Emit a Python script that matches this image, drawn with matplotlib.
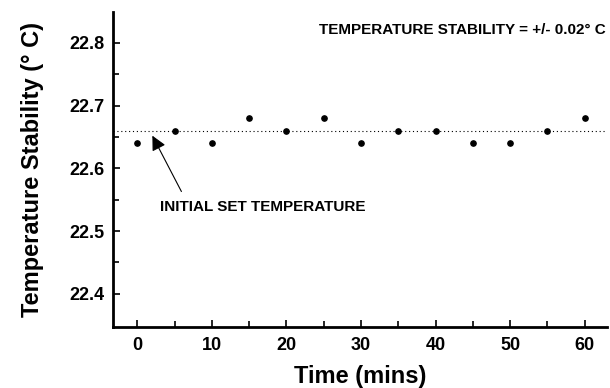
import numpy as np
import matplotlib.pyplot as plt

plt.rcParams['font.family'] = ['Liberation Sans', 'DejaVu Sans']
plt.rcParams['font.weight'] = 'bold'

time_mins = [0, 5, 10, 15, 20, 25, 30, 35, 40, 45, 50, 55, 60]
temps = [22.64, 22.66, 22.64, 22.68, 22.66, 22.68, 22.64, 22.66,
         22.66, 22.64, 22.64, 22.66, 22.68]
set_temp = 22.66

fig = plt.figure(figsize=(6.1, 3.88), dpi=100)
ax = fig.add_axes([0.185, 0.157, 0.81, 0.812])

ax.axhline(set_temp, color='black', linestyle=(0, (1, 2.5)), linewidth=0.8)
ax.plot(time_mins, temps, 'o', color='black', markersize=3.8)

ax.set_xlim(-3.3, 63)
ax.set_ylim(22.347, 22.849)
ax.set_xticks(np.arange(0, 61, 10))
ax.set_xticks(np.arange(5, 61, 10), minor=True)
ax.set_yticks([22.4, 22.5, 22.6, 22.7, 22.8])
ax.set_yticks([22.45, 22.55, 22.65, 22.75], minor=True)
ax.tick_params(which='both', direction='in', width=1.2, labelsize=13)
ax.tick_params(which='major', length=5)
ax.tick_params(which='minor', length=4)
ax.tick_params(axis='x', pad=7)
ax.tick_params(axis='y', pad=6)

for s in ['top', 'right']:
    ax.spines[s].set_visible(False)
for s in ['left', 'bottom']:
    ax.spines[s].set_linewidth(2)

ax.set_xlabel('Time (mins)', fontsize=17, fontweight='bold', labelpad=8)
ax.set_ylabel('Temperature Stability (° C)', fontsize=17, fontweight='bold', labelpad=18)

ax.text(62.8, 22.821, 'TEMPERATURE STABILITY = +/- 0.02° C', ha='right', va='center',
        fontsize=11, fontweight='bold')
ax.text(3.0, 22.539, 'INITIAL SET TEMPERATURE', ha='left', va='center',
        fontsize=11, fontweight='bold')
ax.annotate('', xy=(2.0, 22.652), xytext=(5.9, 22.563),
            arrowprops=dict(arrowstyle='-|>', color='black', lw=0.8,
                            mutation_scale=22, shrinkA=0, shrinkB=0))

fig.savefig('out.png', dpi=100)
